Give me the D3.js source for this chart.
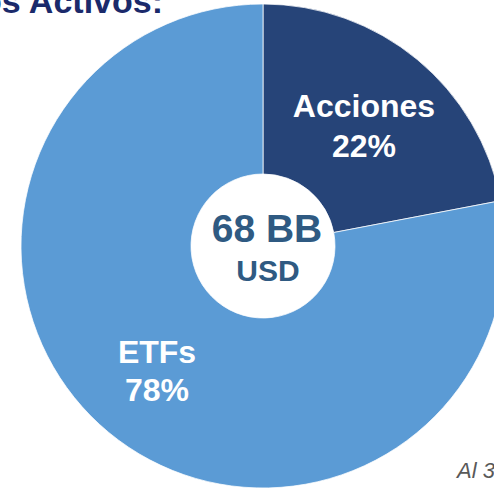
<!DOCTYPE html>
<html>
<head>
<meta charset="utf-8">
<script src="https://cdn.jsdelivr.net/npm/d3@7"></script>
<style>
  html, body { margin: 0; padding: 0; background: #ffffff; overflow: hidden; }
  svg { display: block; font-family: "Liberation Sans", Arial, sans-serif; }
</style>
</head>
<body>
<svg id="chart" width="494" height="489"></svg>
<script>
// Asset composition data
const categories = ["Acciones", "ETFs"];
const shares = [22, 78];
const colors = ["#264478", "#5B9BD5"];
const totalLabel = "68 BB";
const totalUnit = "USD";
const titleText = "Composición de los Activos:";
const dateText = "Al 31 de diciembre de 2023";

const svg = d3.select("#chart");
const cx = 263, cy = 246;
const outerR = 242, innerR = 72;

// Title (partly outside the frame at top-left)
svg.append("text")
  .attr("x", 163).attr("y", 13)
  .attr("text-anchor", "end")
  .attr("font-size", 34).attr("font-weight", "bold")
  .attr("fill", "#1B2A6B")
  .text(titleText);

const pie = d3.pie().sort(null).value(d => d.v);
const data = pie(categories.map((c, i) => ({ c, v: shares[i], col: colors[i] })));

const arc = d3.arc().innerRadius(innerR).outerRadius(outerR);

const g = svg.append("g").attr("transform", `translate(${cx},${cy})`);

g.selectAll("path")
  .data(data)
  .join("path")
  .attr("d", arc)
  .attr("fill", d => d.data.col)
  .attr("stroke", "#ffffff")
  .attr("stroke-width", 0.75);

// Slice labels
const labelPos = {
  "Acciones": [101, -129, -89],
  "ETFs": [-106, 117, 155]
};
data.forEach(d => {
  const p = labelPos[d.data.c];
  g.append("text")
    .attr("x", p[0]).attr("y", p[1])
    .attr("text-anchor", "middle")
    .attr("font-size", 32).attr("font-weight", "bold")
    .attr("fill", "#ffffff")
    .text(d.data.c);
  g.append("text")
    .attr("x", p[0]).attr("y", p[2])
    .attr("text-anchor", "middle")
    .attr("font-size", 32).attr("font-weight", "bold")
    .attr("fill", "#ffffff")
    .text(d3.format(".0f")(d.data.v) + "%");
});

// Centre total
g.append("text")
  .attr("x", 4).attr("y", -4)
  .attr("text-anchor", "middle")
  .attr("font-size", 39).attr("font-weight", "bold")
  .attr("fill", "#2F5A82")
  .text(totalLabel);
g.append("text")
  .attr("x", 5).attr("y", 35)
  .attr("text-anchor", "middle")
  .attr("font-size", 30).attr("font-weight", "bold")
  .attr("fill", "#2F5A82")
  .text(totalUnit);

// Date note (bottom-right)
svg.append("text")
  .attr("x", 457).attr("y", 478)
  .attr("font-size", 22).attr("font-style", "italic")
  .attr("fill", "#595959")
  .text(dateText);
</script>
</body>
</html>
